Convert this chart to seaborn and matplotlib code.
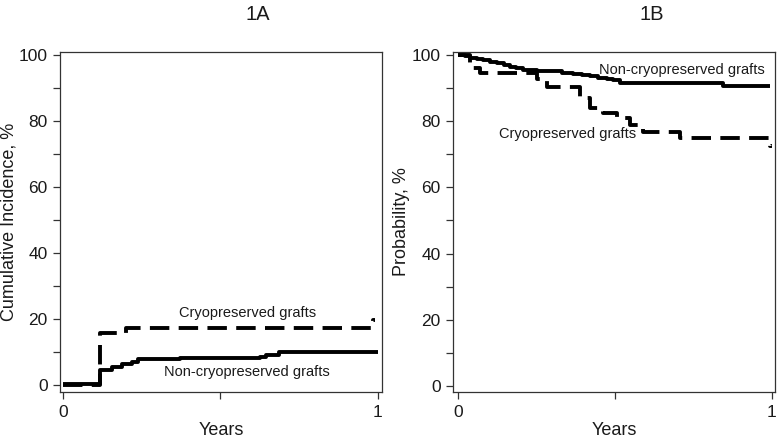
import pandas as pd
import seaborn as sns
import matplotlib.pyplot as plt

# Panel 1A - cumulative incidence (%) by years
years_nc_a = [0.0, 0.117, 0.154, 0.186, 0.22, 0.239, 0.372, 0.626, 0.645, 0.686, 1.0]
inc_nc_a = [0.2, 4.7, 5.5, 6.3, 7.0, 7.8, 8.1, 8.6, 9.2, 10.0, 10.0]
years_c_a = [0.0, 0.117, 0.2, 0.986, 0.992]
inc_c_a = [0.0, 15.7, 17.3, 19.7, 19.7]

# Panel 1B - probability (%) by years
years_nc_b = [0.0, 0.02, 0.037, 0.06, 0.08, 0.1, 0.122, 0.145, 0.165, 0.185, 0.207, 0.25,
              0.293, 0.33, 0.367, 0.395, 0.42, 0.445, 0.473, 0.495, 0.516, 0.846, 0.995]
prob_nc_b = [100, 99.6, 99.2, 98.8, 98.5, 98.0, 97.5, 97.0, 96.5, 96.0, 95.5, 95.2,
             95.0, 94.6, 94.2, 93.8, 93.5, 93.1, 92.8, 92.3, 91.6, 90.6, 90.6]
years_c_b = [0.0, 0.037, 0.069, 0.25, 0.282, 0.388, 0.42, 0.463, 0.505, 0.548, 0.59, 0.707, 0.995, 1.0]
prob_c_b = [100, 96.0, 94.5, 92.7, 90.4, 86.9, 83.9, 82.4, 80.9, 78.9, 76.7, 74.9, 72.4, 72.4]

y_ticks = list(range(0, 101, 10))
y_ticklabels = [str(v) if v % 20 == 0 else '' for v in y_ticks]
x_ticks = [0, 0.5, 1]
x_ticklabels = ['0', '', '1']

sns.set_style('ticks')
plt.rcParams['font.family'] = ['Liberation Sans', 'DejaVu Sans']

fig = plt.figure(figsize=(7.8, 4.41), dpi=100)
ax1 = fig.add_axes([0.0773, 0.111, 0.412, 0.772])
ax2 = fig.add_axes([0.5812, 0.111, 0.4124, 0.772])


def draw_step(ax, x, y, dashed):
    df = pd.DataFrame({'x': x, 'y': y})
    sns.lineplot(data=df, x='x', y='y', ax=ax, estimator=None, drawstyle='steps-post',
                 color='black', linewidth=2.8, solid_capstyle='butt')
    if dashed:
        ax.lines[-1].set_dashes((5, 2.4))
        ax.lines[-1].set_dash_capstyle('butt')


draw_step(ax1, years_nc_a, inc_nc_a, False)
draw_step(ax1, years_c_a, inc_c_a, True)
draw_step(ax2, years_nc_b, prob_nc_b, False)
draw_step(ax2, years_c_b, prob_c_b, True)

ax1.set_xlim(-0.0095, 1.0127)
ax1.set_ylim(-2.1, 101)
ax2.set_xlim(-0.016, 1.0105)
ax2.set_ylim(-1.8, 101)

for ax in (ax1, ax2):
    ax.set_yticks(y_ticks)
    ax.set_yticklabels(y_ticklabels)
    ax.set_xticks(x_ticks)
    ax.set_xticklabels(x_ticklabels)
    ax.tick_params(labelsize=12.5, length=5, width=0.9, color='#333333', labelcolor='#1a1a1a', pad=4)
    for sp in ax.spines.values():
        sp.set_visible(True)
        sp.set_linewidth(0.9)
        sp.set_color('#333333')
    ax.set_xlabel('Years', fontsize=13, color='#1a1a1a', labelpad=2)

ax1.set_ylabel('Cumulative Incidence, %', fontsize=13, color='#1a1a1a', labelpad=1)
ax2.set_ylabel('Probability, %', fontsize=13, color='#1a1a1a', labelpad=1)

ax1.text(0.587, 21.8, 'Cryopreserved grafts', fontsize=10.5, ha='center', va='center', color='#1a1a1a')
ax1.text(0.584, 3.9, 'Non-cryopreserved grafts', fontsize=10.5, ha='center', va='center', color='#1a1a1a')
ax2.text(0.714, 95.5, 'Non-cryopreserved grafts', fontsize=10.5, ha='center', va='center', color='#1a1a1a')
ax2.text(0.347, 76.1, 'Cryopreserved grafts', fontsize=10.5, ha='center', va='center', color='#1a1a1a')

fig.text(258 / 780, 1 - 15 / 441, '1A', fontsize=14.5, ha='center', va='center', color='#1a1a1a')
fig.text(652 / 780, 1 - 15 / 441, '1B', fontsize=14.5, ha='center', va='center', color='#1a1a1a')

fig.savefig('out.png', dpi=100, facecolor='white')
